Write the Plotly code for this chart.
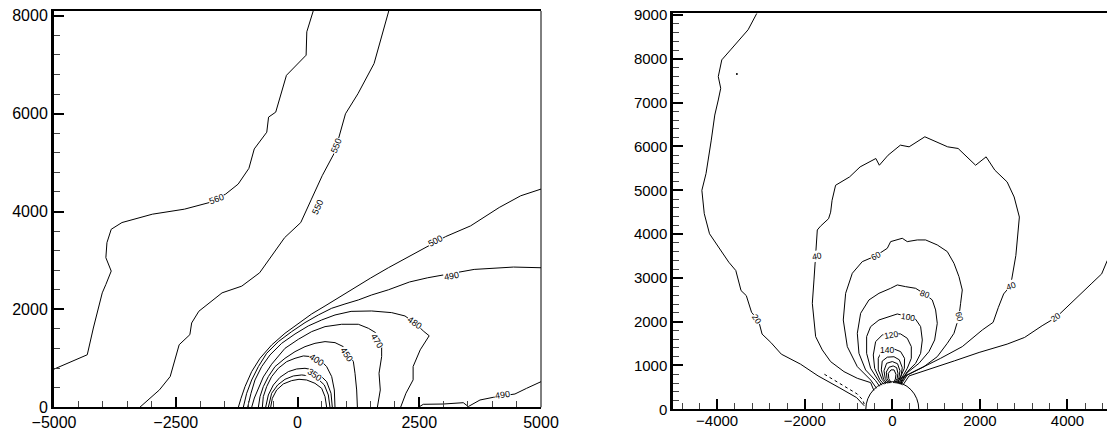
import plotly.graph_objects as go

# ---------------- Left panel contour lines (x, y) ----------------
c560 = [(-5000, 780), (-4317, 1073), (-4192, 1620), (-4097, 1996), (-4009, 2338), (-3935, 2509),
        (-3825, 2783), (-3935, 3056), (-3913, 3364), (-3825, 3637), (-3605, 3774), (-2981, 3945),
        (-2320, 4048), (-1806, 4184), (-1476, 4355), (-1218, 4560), (-998, 4881), (-888, 5278),
        (-631, 5620), (-594, 5928), (-447, 6030), (-227, 6782), (177, 7193), (191, 7671), (324, 8100)]
c550 = [(1875, 8100), (1572, 7022), (1241, 6406), (985, 5996), (764, 5210), (507, 4731), (287, 4253),
        (67, 3774), (-264, 3466), (-778, 2748), (-1145, 2475), (-1549, 2338), (-2026, 1962),
        (-2173, 1723), (-2210, 1484), (-2430, 1278), (-2614, 629), (-2834, 356), (-3238, 0)]
c500 = [(5000, 4458), (4583, 4321), (4142, 4082), (3554, 3706), (3041, 3487), (2747, 3330),
        (2306, 3090), (1866, 2851), (1500, 2640), (1112, 2397), (838, 2227), (565, 2070), (291, 1907),
        (17, 1716), (-257, 1512), (-531, 1273), (-770, 1001), (-941, 729), (-1078, 422), (-1160, 184),
        (-1215, 0)]
c490 = [(5000, 2851), (4436, 2865), (3628, 2817), (3041, 2714), (2673, 2646), (2300, 2560),
        (1866, 2400), (1523, 2295), (1249, 2193), (975, 2111), (702, 2023), (428, 1886), (154, 1730),
        (-120, 1546), (-394, 1342), (-633, 1103), (-804, 831), (-941, 558), (-1044, 286), (-1113, 0)]
c480 = [(2117, 0), (2227, 287), (2374, 560), (2374, 833), (2520, 1174), (2704, 1461), (2594, 1550),
        (2411, 1720), (2207, 1866), (1934, 1934), (1523, 1968), (1100, 1960), (770, 1886), (496, 1784),
        (222, 1662), (-51, 1498), (-325, 1307), (-565, 1069), (-736, 831), (-873, 558), (-955, 286),
        (-1024, 0)]
c470 = [(1640, 0), (1700, 354), (1674, 695), (1728, 1035), (1728, 1239), (1626, 1512), (1455, 1614),
        (1249, 1696), (907, 1696), (565, 1648), (291, 1546), (17, 1389), (-257, 1205), (-531, 880),
        (-702, 620), (-804, 400), (-886, 190), (-941, 0)]
c450 = [(1230, 0), (1215, 354), (1181, 695), (1147, 933), (1044, 1103), (941, 1239), (770, 1321),
        (565, 1342), (359, 1307), (154, 1239), (-51, 1137), (-257, 1001), (-462, 831), (-599, 627),
        (-702, 422), (-770, 218), (-804, 0)]
c400 = [(770, 0), (756, 354), (702, 627), (599, 831), (462, 969), (291, 1035), (120, 1049), (-51, 1001),
        (-222, 933), (-394, 797), (-531, 627), (-633, 422), (-702, 218), (-722, 0)]
c350 = [(715, 0), (688, 286), (599, 524), (460, 660), (325, 763), (154, 797), (-17, 783), (-188, 729),
        (-359, 613), (-496, 456), (-599, 252), (-654, 0)]
c300 = [(667, 0), (633, 252), (551, 456), (428, 572), (257, 640), (86, 661), (-86, 640), (-257, 572),
        (-407, 456), (-531, 286), (-599, 0)]
c250 = [(599, 0), (565, 218), (496, 388), (359, 490), (188, 558), (31, 572), (-120, 545), (-291, 477),
        (-428, 354), (-517, 184), (-551, 0)]
c490b = [(2484, 0), (2583, 61), (2993, 67), (3404, 94), (3507, 15), (3747, 149), (4020, 204),
         (4225, 231), (4465, 272), (4705, 388), (5000, 523)]

left_lines = [c560, c550, c500, c490, c480, c470, c450, c400, c350, c300, c250, c490b]

left_lab_text = ["560", "550", "550", "500", "490", "480", "470", "450", "400", "350", "490"]
left_lab_x = [-1662, 796, 415, 2829, 3166, 2411, 1625, 1016, 393, 356, 4208]
left_lab_y = [4260, 5338, 4096, 3392, 2689, 1720, 1345, 1072, 969, 662, 253]
left_lab_ang = [-20, -68, -65, -28, -10, 34, 58, 56, 33, 35, -9]

# ---------------- Right panel contour lines (x, y) ----------------
r20a = [(-3093, 9040), (-3293, 8663), (-3693, 8205), (-3893, 7977), (-3973, 7595), (-3917, 7328),
        (-3973, 7061), (-4053, 6717), (-4133, 6145), (-4253, 5381), (-4348, 4999), (-4293, 4465),
        (-4173, 4007), (-3973, 3702), (-3733, 3358), (-3573, 3168), (-3453, 2710), (-3333, 2595),
        (-3213, 2214), (-3053, 2023), (-2973, 1717), (-2774, 1527), (-2534, 1259), (-2094, 1030),
        (-1695, 763), (-1215, 496), (-815, 267), (-640, 80)]
r20b = [(4910, 3400), (4780, 3091), (4540, 2862), (4380, 2710), (4300, 2640), (3901, 2252),
        (3741, 2099), (3421, 1908), (3021, 1641), (2622, 1488), (1982, 1298), (1423, 1107),
        (863, 916), (384, 763), (240, 550)]
r40 = [(-420, 430), (-495, 609), (-799, 708), (-1103, 860), (-1408, 1088), (-1598, 1355), (-1750, 1659),
       (-1826, 2420), (-1788, 2953), (-1750, 3523), (-1712, 4094), (-1640, 4180), (-1455, 4351),
       (-1408, 4500), (-1375, 4771), (-1295, 5114), (-975, 5305), (-735, 5534), (-376, 5725),
       (-296, 5572), (-96, 5801), (184, 6030), (384, 5992), (743, 6221), (1023, 6106), (1263, 5992),
       (1503, 5954), (1702, 5763), (1902, 5572), (2142, 5763), (2342, 5458), (2622, 5190),
       (2782, 4847), (2901, 4389), (2861, 3855), (2821, 3511), (2702, 2824), (2542, 2633),
       (2422, 2328), (2302, 1985), (2055, 1811), (1598, 1431), (1103, 1164), (571, 898), (190, 708),
       (220, 558)]
r60 = [(-360, 480), (-495, 670), (-799, 974), (-1027, 1431), (-1119, 2039), (-1065, 2648), (-913, 3105),
       (-685, 3371), (-381, 3501), (-114, 3676), (-38, 3828), (114, 3866), (228, 3904), (342, 3828),
       (571, 3866), (761, 3866), (1027, 3752), (1256, 3600), (1408, 3333), (1522, 3029), (1598, 2724),
       (1560, 2420), (1522, 2116), (1408, 1735), (1256, 1507), (1027, 1202), (723, 974), (342, 784),
       (200, 566)]
r80 = [(-290, 525), (-381, 654), (-609, 898), (-761, 1278), (-799, 1735), (-723, 2192), (-533, 2496),
       (-304, 2648), (-38, 2762), (114, 2839), (304, 2800), (533, 2762), (738, 2633), (913, 2496),
       (989, 2268), (1027, 1963), (967, 1583), (837, 1317), (609, 1050), (342, 837), (180, 572)]
r100 = [(-240, 550), (-327, 670), (-495, 936), (-586, 1278), (-586, 1659), (-495, 1887), (-304, 2039),
        (-76, 2116), (114, 2176), (358, 2116), (533, 2055), (647, 1887), (685, 1583), (647, 1278),
        (533, 1050), (342, 860), (160, 578)]
r120 = [(-190, 569), (-282, 670), (-403, 936), (-434, 1240), (-381, 1545), (-228, 1697), (-38, 1735),
        (190, 1720), (342, 1621), (434, 1431), (434, 1164), (342, 936), (140, 583)]
r140 = [(-150, 581), (-230, 680), (-320, 900), (-320, 1164), (-251, 1317), (-114, 1370), (38, 1377),
        (190, 1317), (280, 1164), (275, 936), (120, 588)]
r160 = [(-115, 589), (-200, 690), (-251, 900), (-230, 1100), (-114, 1190), (38, 1200), (160, 1130),
        (228, 950), (200, 760), (100, 592)]
r180 = [(-85, 594), (-160, 700), (-190, 880), (-130, 1050), (0, 1090), (120, 1040), (175, 880),
        (150, 720), (75, 595)]
r200 = [(-55, 597), (-120, 700), (-137, 850), (-76, 960), (20, 990), (100, 950), (129, 820),
        (110, 700), (50, 598)]
r220 = [(-25, 600), (-80, 700), (-91, 820), (-30, 900), (40, 900), (84, 800), (70, 690), (25, 600)]
r_noise = [(-1550, 800), (-1250, 620), (-1000, 470), (-800, 350), (-680, 220), (-640, 120)]
r_speck = [(-3549, 7656)]

right_lines = [r20a, r20b, r40, r60, r80, r100, r120, r140, r160, r180, r200, r220]

right_lab_text = ["20", "20", "40", "40", "60", "60", "80", "100", "120", "140"]
right_lab_x = [-3093, 3741, -1710, 2702, -381, 1543, 738, 358, -38, -114]
right_lab_y = [2061, 2099, 3511, 2824, 3501, 2116, 2633, 2116, 1697, 1355]
right_lab_ang = [55, -36, -10, -20, -28, 75, 20, 10, -10, 0]

# ---------------- Figure ----------------
FONT = "Arial, 'Liberation Sans', sans-serif"
fig = go.Figure()


def add_line(pts, xa, ya, dash="solid"):
    fig.add_trace(go.Scatter(x=[p[0] for p in pts], y=[p[1] for p in pts], mode="lines",
                             line=dict(color="black", width=1, dash=dash),
                             xaxis=xa, yaxis=ya, showlegend=False, hoverinfo="skip"))


for pts in left_lines:
    add_line(pts, "x", "y")
for pts in right_lines:
    add_line(pts, "x2", "y2")
add_line(r_noise, "x2", "y2", dash="dot")
fig.add_trace(go.Scatter(x=[p[0] for p in r_speck], y=[p[1] for p in r_speck], mode="markers",
                         marker=dict(color="black", size=2), xaxis="x2", yaxis="y2",
                         showlegend=False, hoverinfo="skip"))

# semicircle body on the right panel (lower half clipped by the axis)
fig.add_shape(type="circle", xref="x2", yref="y2", x0=-605, x1=605, y0=-630, y1=630,
              line=dict(color="black", width=1))
# thin right border of the left panel
fig.add_shape(type="line", xref="x domain", yref="y domain", x0=1, x1=1, y0=0, y1=1,
              line=dict(color="black", width=1))

for t, x, y, a in zip(left_lab_text, left_lab_x, left_lab_y, left_lab_ang):
    fig.add_annotation(x=x, y=y, xref="x", yref="y", text=t, showarrow=False, textangle=a,
                       font=dict(family=FONT, size=9, color="black"), bgcolor="white", borderpad=0)
for t, x, y, a in zip(right_lab_text, right_lab_x, right_lab_y, right_lab_ang):
    fig.add_annotation(x=x, y=y, xref="x2", yref="y2", text=t, showarrow=False, textangle=a,
                       font=dict(family=FONT, size=8.5, color="black"), bgcolor="white", borderpad=0)


def axis(dom, rng, dtick, mdtick, lw, mirror, fs, anchor, standoff=0):
    return dict(domain=dom, range=rng, dtick=dtick, tick0=0, ticks="inside", ticklen=10, tickwidth=2,
                tickcolor="black", showline=True, linewidth=lw, linecolor="black", mirror=mirror,
                showgrid=False, zeroline=False, anchor=anchor, automargin=False,
                ticklabelstandoff=standoff,
                tickfont=dict(family=FONT, size=fs, color="black"),
                minor=dict(dtick=mdtick, tick0=0, ticks="inside", ticklen=6, tickwidth=1,
                           tickcolor="#444", showgrid=False))


fig.update_layout(
    template="none",
    width=1107, height=430, margin=dict(l=0, r=0, t=0, b=0, pad=0),
    paper_bgcolor="white", plot_bgcolor="white", showlegend=False,
    xaxis=axis([54 / 1107, 541 / 1107], [-5000, 5000], 2500, 500, 2, True, 16, "y", -1),
    yaxis=axis([22.7 / 430, 419 / 430], [0, 8096], 2000, 400, 3, False, 16, "x"),
    xaxis2=axis([673.3 / 1107, 1.0], [-5000, 4902], 2000, 400, 2, True, 15, "y2", -3),
    yaxis2=axis([20.7 / 430, 416.7 / 430], [0, 9040], 1000, 200, 3, False, 15, "x2"),
)

fig.write_html("out.html", config={"displayModeBar": False},
               post_script="document.body.style.margin='0';document.body.style.padding='0';"
                           "document.body.style.overflow='hidden';")
